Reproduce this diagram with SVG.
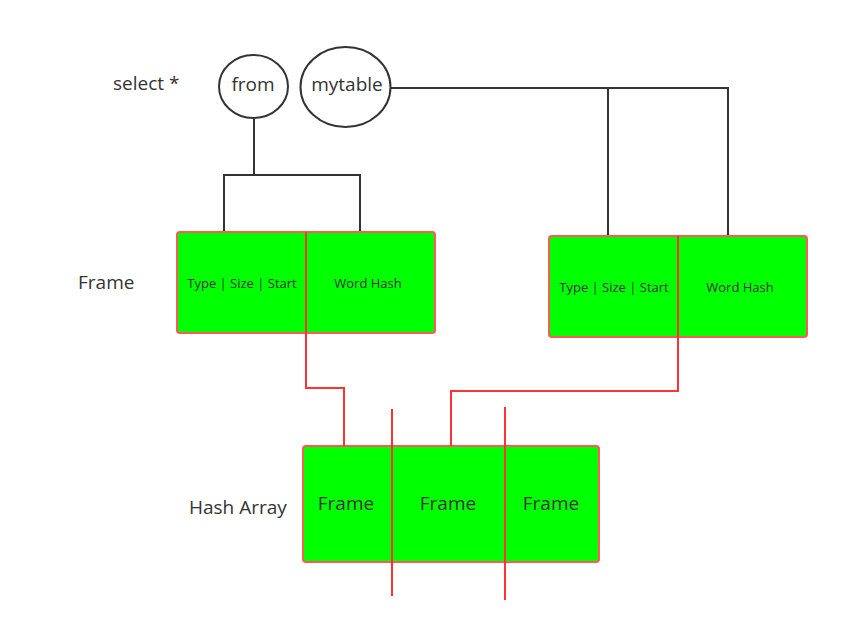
<svg xmlns="http://www.w3.org/2000/svg" width="844" height="633" viewBox="0 0 844 633">
<style>
text{font-family:"Open Sans","Noto Sans","Liberation Sans",sans-serif;fill:#333}
.lbl{font-size:19px}
.sm{font-size:13px}
.ell{fill:#fff;stroke:#333;stroke-width:2}
.box{fill:#00ff00;stroke:#ff5a5a;stroke-width:2}
.blk{fill:none;stroke:#333;stroke-width:2}
.red{fill:none;stroke:#ff3333;stroke-width:2}
</style>
<rect width="844" height="633" fill="#fff"/>
<text class="lbl" x="113" y="90">select *</text>
<text class="lbl" x="78" y="289">Frame</text>
<text class="lbl" x="189" y="514">Hash Array</text>
<g id="connectors">
<polyline class="blk" points="254,118 254,175"/>
<polyline class="blk" points="224,232 224,175 360,175 360,232"/>
<polyline class="blk" points="390,88 728,88 728,236"/>
<polyline class="blk" points="608,88 608,236"/>
</g>
<g id="from"><ellipse class="ell" cx="253.5" cy="86.5" rx="34.5" ry="31.5"/><text class="lbl" x="253" y="91" text-anchor="middle">from</text></g>
<g id="mytable"><ellipse class="ell" cx="345.5" cy="87" rx="45" ry="40"/><text class="lbl" x="347" y="91" text-anchor="middle">mytable</text></g>
<g id="frame1">
<rect class="box" x="177" y="232" width="258" height="101" rx="3"/>
<text class="sm" x="242" y="288" text-anchor="middle">Type | Size | Start</text>
<text class="sm" x="368" y="288" text-anchor="middle">Word Hash</text>
</g>
<g id="frame2">
<rect class="box" x="549" y="236" width="258" height="101" rx="3"/>
<text class="sm" x="614" y="292" text-anchor="middle">Type | Size | Start</text>
<text class="sm" x="740" y="292" text-anchor="middle">Word Hash</text>
</g>
<g id="hasharray">
<rect class="box" x="303" y="446" width="296" height="116" rx="3"/>
<text class="lbl" x="346" y="510" text-anchor="middle">Frame</text>
<text class="lbl" x="448" y="510" text-anchor="middle">Frame</text>
<text class="lbl" x="551" y="510" text-anchor="middle">Frame</text>
</g>
<g id="red-connectors">
<polyline class="red" points="306,232 306,388 344,388 344,446"/>
<polyline class="red" points="678,236 678,391 451,391 451,446"/>
<line class="red" x1="392" y1="409" x2="392" y2="596"/>
<line class="red" x1="505" y1="407" x2="505" y2="600"/>
</g>
</svg>
